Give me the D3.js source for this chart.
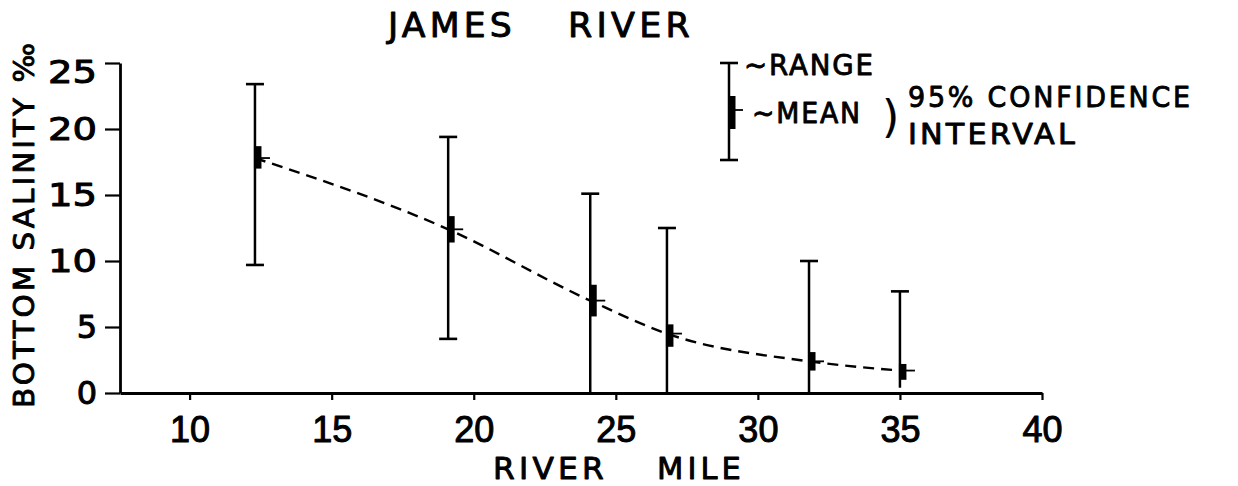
<!DOCTYPE html>
<html>
<head>
<meta charset="utf-8">
<script src="https://cdn.jsdelivr.net/npm/d3@7"></script>
<style>
  html, body { margin: 0; padding: 0; background: #fff; }
  svg { display: block; }
  text { fill: #000; }
</style>
</head>
<body>
<svg id="chart" width="1238" height="486"></svg>
<script>
// Bottom salinity (‰) along the James River, by river mile
const riverMiles = [12.3, 19.1, 24.1, 26.8, 31.8, 35.0];
const rangeHigh  = [23.4, 19.4, 15.1, 12.5, 10.0, 7.7];
const rangeLow   = [9.7, 4.1, 0, 0, 0, 0.4];
const ciHigh     = [18.7, 13.4, 8.2, 5.2, 3.1, 2.2];
const ciLow      = [17.0, 11.4, 5.8, 3.5, 1.7, 1.0];
const means      = [17.8, 12.4, 7.0, 4.5, 2.4, 1.7];

const xTickValues = [10, 15, 20, 25, 30, 35, 40];
const yTickValues = [0, 5, 10, 15, 20, 25];

const svg = d3.select("#chart");
const ink = "#000";

const x = d3.scaleLinear().domain([7.55, 40]).range([120, 1042]);
const y = d3.scaleLinear().domain([0, 25]).range([393, 63]);

const lettering = "'DejaVu Sans', sans-serif";

// stroke the glyph outlines a little so the lettering reads as pen-drawn
function inked(sel, w) {
  return sel.attr("fill", ink).attr("stroke", ink).attr("stroke-width", w).attr("stroke-linejoin", "round");
}

// place a label at (x0, base) and stretch it horizontally to the given width
function stretched(parent, str, x0, base, width, size, extra) {
  const t = parent.append("text")
    .attr("font-family", lettering)
    .attr("font-size", size)
    .attr("letter-spacing", extra || 0)
    .text(str);
  inked(t, 0.9);
  const natural = t.node().getComputedTextLength();
  t.attr("transform", `translate(${x0},${base}) scale(${width / natural},1)`);
  return t;
}

// ---- axes ----
const xAxis = svg.append("g")
  .attr("transform", `translate(0,${y(0)})`)
  .call(d3.axisBottom(x).tickValues(xTickValues).tickSize(7).tickSizeOuter(0).tickPadding(16));
xAxis.select(".domain").attr("stroke", ink).attr("stroke-width", 2.8);
xAxis.selectAll(".tick line").attr("stroke", ink).attr("stroke-width", 2.2);
xAxis.selectAll(".tick text")
  .attr("font-family", "'Liberation Sans', sans-serif")
  .attr("font-size", 36)
  .call(inked, 1);

const yAxis = svg.append("g")
  .attr("transform", `translate(${x(7.55)},0)`)
  .call(d3.axisLeft(y).tickValues(yTickValues).tickSize(15).tickSizeOuter(0).tickPadding(8));
yAxis.select(".domain").attr("stroke", ink).attr("stroke-width", 2.8);
yAxis.selectAll(".tick line").attr("stroke", ink).attr("stroke-width", 2.2);
yAxis.selectAll(".tick text")
  .attr("font-family", lettering)
  .attr("font-size", 32)
  .call(inked, 1)
  .each(function (d) {
    const t = d3.select(this);
    if (String(d).length > 1) t.attr("textLength", 49).attr("lengthAdjust", "spacingAndGlyphs");
    if (d === 25) t.attr("dy", "0.62em");
  });

// ---- range bars, 95% confidence boxes and means ----
const capW = 18;
const bars = svg.append("g").selectAll("g")
  .data(riverMiles.map((m, i) => ({
    m, hi: rangeHigh[i], lo: rangeLow[i], ch: ciHigh[i], cl: ciLow[i], mean: means[i]
  })))
  .join("g");

bars.append("line")
  .attr("x1", d => x(d.m)).attr("x2", d => x(d.m))
  .attr("y1", d => y(d.hi)).attr("y2", d => y(d.lo))
  .attr("stroke", ink).attr("stroke-width", 2.5);

bars.append("line")
  .attr("x1", d => x(d.m) - capW / 2).attr("x2", d => x(d.m) + capW / 2)
  .attr("y1", d => y(d.hi)).attr("y2", d => y(d.hi))
  .attr("stroke", ink).attr("stroke-width", 2.6);

bars.filter(d => d.lo > 1).append("line")
  .attr("x1", d => x(d.m) - capW / 2).attr("x2", d => x(d.m) + capW / 2)
  .attr("y1", d => y(d.lo)).attr("y2", d => y(d.lo))
  .attr("stroke", ink).attr("stroke-width", 2.6);

bars.append("rect")
  .attr("x", d => x(d.m) - 1)
  .attr("width", 7.5)
  .attr("y", d => y(d.ch))
  .attr("height", d => y(d.cl) - y(d.ch))
  .attr("fill", ink);

bars.append("line")
  .attr("x1", d => x(d.m)).attr("x2", d => x(d.m) + 15)
  .attr("y1", d => y(d.mean)).attr("y2", d => y(d.mean))
  .attr("stroke", ink).attr("stroke-width", 1.8);

// dashed curve through the means
const meanLine = d3.line()
  .x((d, i) => x(riverMiles[i]))
  .y(d => y(d))
  .curve(d3.curveMonotoneX);

svg.append("path")
  .attr("d", meanLine(means))
  .attr("fill", "none")
  .attr("stroke", ink)
  .attr("stroke-width", 2.4)
  .attr("stroke-dasharray", "11,7");

// ---- titles ----
stretched(svg, "JAMES", 388, 37, 128, 33, 4);
stretched(svg, "RIVER", 568, 37, 126, 33, 4);

stretched(svg, "RIVER", 493, 479, 115, 30, 4);
stretched(svg, "MILE", 657, 479, 88, 30, 4);

const yTitle = svg.append("text")
  .attr("font-family", lettering)
  .attr("font-size", 29)
  .attr("letter-spacing", 3)
  .text("BOTTOM SALINITY ‰");
inked(yTitle, 0.9);
{
  const natural = yTitle.node().getComputedTextLength();
  yTitle.attr("transform", `translate(34,408) rotate(-90) scale(${368 / natural},1)`);
}

// ---- key ----
const key = svg.append("g");
const kx = 729, kTop = 63, kBottom = 160;
key.append("line").attr("x1", kx).attr("x2", kx).attr("y1", kTop).attr("y2", kBottom)
  .attr("stroke", ink).attr("stroke-width", 2.5);
[kTop, kBottom].forEach(v => key.append("line")
  .attr("x1", kx - capW / 2).attr("x2", kx + capW / 2).attr("y1", v).attr("y2", v)
  .attr("stroke", ink).attr("stroke-width", 2.6));
key.append("rect").attr("x", kx - 1).attr("width", 7.5).attr("y", 96).attr("height", 33).attr("fill", ink);
key.append("line").attr("x1", kx).attr("x2", kx + 14).attr("y1", 110).attr("y2", 110)
  .attr("stroke", ink).attr("stroke-width", 1.8);

stretched(key, "~RANGE", 744, 75, 131, 29, 2);
stretched(key, "~MEAN", 752, 123, 110, 29, 2);
stretched(key, "95% CONFIDENCE", 908, 107, 285, 29, 3);
stretched(key, "INTERVAL", 908, 144, 170, 29, 3);
const paren = key.append("text")
  .attr("font-family", lettering).attr("font-size", 44)
  .attr("x", 882).attr("y", 132)
  .text(")");
inked(paren, 0.2);
</script>
</body>
</html>
